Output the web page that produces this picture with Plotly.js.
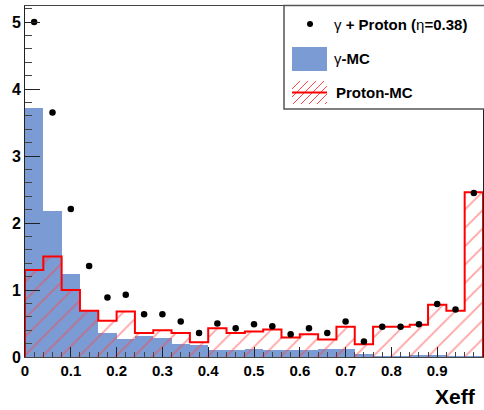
<!DOCTYPE html>
<html>
<head>
<meta charset="utf-8">
<script src="https://cdn.plot.ly/plotly-3.0.1.min.js"></script>
<style>html,body{margin:0;padding:0;background:#fff;}#chart{width:484px;height:410px;}</style>
</head>
<body>
<div id="chart"></div>
<script>
const binCenters = [0.02,0.06,0.10,0.14,0.18,0.22,0.26,0.30,0.34,0.38,0.42,0.46,0.50,0.54,0.58,0.62,0.66,0.70,0.74,0.78,0.82,0.86,0.90,0.94,0.98];
const binWidth = 0.04;
const gammaMC  = [3.72,2.18,1.24,0.68,0.36,0.27,0.31,0.29,0.19,0.18,0.10,0.10,0.12,0.11,0.10,0.11,0.12,0.12,0.04,0.02,0.01,0.03,0.03,0.02,0.01];
const protonMC = [1.30,1.50,1.00,0.69,0.54,0.68,0.36,0.40,0.36,0.22,0.43,0.36,0.38,0.41,0.29,0.34,0.26,0.45,0.19,0.45,0.45,0.48,0.78,0.69,2.46];
const dataPts  = [5.00,3.65,2.21,1.36,0.89,0.93,0.64,0.64,0.53,0.36,0.50,0.43,0.49,0.46,0.34,0.43,0.36,0.53,0.23,0.45,0.45,0.49,0.79,0.71,2.45];
const xTickVals = [0,0.1,0.2,0.3,0.4,0.5,0.6,0.7,0.8,0.9,1];
const xTickText = ['0','0.1','0.2','0.3','0.4','0.5','0.6','0.7','0.8','0.9','1'];
const yTickVals = [0,1,2,3,4,5];
const yTickText = ['0','1','2','3','4','5'];
const legendLabels = ['\u03b3<b> + Proton (</b>\u03b7<b>=0.38)</b>', '\u03b3<b>-MC</b>', '<b>Proton-MC</b>'];

// step outline for proton histogram
const stepX = [binCenters[0] - binWidth/2];
const stepY = [0];
binCenters.forEach((c, i) => { stepX.push(c - binWidth/2); stepY.push(protonMC[i]); });
stepX.push(binCenters[binCenters.length-1] + binWidth/2); stepY.push(protonMC[protonMC.length-1]);
stepX.push(binCenters[binCenters.length-1] + binWidth/2); stepY.push(0);

const W = 484, H = 410;
const M = {l:25, r:1, t:6, b:53};
const PW = W - M.l - M.r, PH = H - M.t - M.b;
const px = x => (x - M.l) / PW;
const py = y => (H - M.b - y) / PH;

const BLUE = '#7b9bd4';
const RED = '#ff0000';
const HATCH = '#ff4545';
const FONT = 'Liberation Sans, Arial, sans-serif';

const traces = [
  {type:'bar', x: binCenters, y: gammaMC, width: binWidth, marker:{color: BLUE, line:{width:0}}, showlegend:false, hoverinfo:'skip'},
  {type:'bar', x: binCenters, y: protonMC, width: binWidth,
   marker:{color:'rgba(0,0,0,0)', line:{width:0},
           pattern:{shape:'/', fgcolor: HATCH, bgcolor:'rgba(0,0,0,0)', fillmode:'overlay', size:13, solidity:0.14}},
   showlegend:false, hoverinfo:'skip'},
  {type:'scatter', mode:'lines', x: stepX, y: stepY, line:{color: RED, width:2, shape:'hv'}, showlegend:false, hoverinfo:'skip'},
  {type:'scatter', mode:'markers', x: binCenters, y: dataPts, marker:{color:'#000', size:6.5}, showlegend:false, hoverinfo:'skip'}
];

// legend shapes
const shapes = [];
shapes.push({type:'rect', xref:'paper', yref:'paper', x0:px(284), x1:px(486), y0:py(5.5), y1:py(109), fillcolor:'#fff', line:{color:'#555', width:1.5}});
shapes.push({type:'circle', xref:'paper', yref:'paper', x0:px(307), x1:px(313), y0:py(21), y1:py(27), fillcolor:'#000', line:{width:0}});
shapes.push({type:'rect', xref:'paper', yref:'paper', x0:px(292), x1:px(327), y0:py(47), y1:py(71), fillcolor:BLUE, line:{width:0}});
// hatch icon
(function(){
  const x0=292, x1=327, y0=81, y1=104, step=8;
  let d='';
  for (let c = x0 + y0; c <= x1 + y1 + step; c += step) {
    let pts=[];
    const cand = [[x0, c-x0],[x1, c-x1],[c-y0, y0],[c-y1, y1]];
    cand.forEach(p => { if (p[0]>=x0-0.01 && p[0]<=x1+0.01 && p[1]>=y0-0.01 && p[1]<=y1+0.01) pts.push(p); });
    if (pts.length>=2) {
      pts.sort((a,b)=>a[0]-b[0]);
      const a=pts[0], b=pts[pts.length-1];
      if (Math.abs(a[0]-b[0])>0.5) d += 'M'+px(a[0])+','+py(a[1])+' L'+px(b[0])+','+py(b[1])+' ';
    }
  }
  shapes.push({type:'path', xref:'paper', yref:'paper', path:d, line:{color:HATCH, width:1}});
})();
shapes.push({type:'line', xref:'paper', yref:'paper', x0:px(292), x1:px(327), y0:py(92.5), y1:py(92.5), line:{color:RED, width:2}});

const annotations = [
  {xref:'paper', yref:'paper', x:px(332), y:py(24), xanchor:'left', yanchor:'middle', text:legendLabels[0], showarrow:false, font:{family:FONT, size:15, color:'#000'}},
  {xref:'paper', yref:'paper', x:px(332), y:py(58), xanchor:'left', yanchor:'middle', text:legendLabels[1], showarrow:false, font:{family:FONT, size:15, color:'#000'}},
  {xref:'paper', yref:'paper', x:px(334), y:py(92), xanchor:'left', yanchor:'middle', text:legendLabels[2], showarrow:false, font:{family:FONT, size:15, color:'#000'}},
  {xref:'paper', yref:'paper', x:px(478), y:py(397), xanchor:'right', yanchor:'middle', text:'<b>Xeff</b>', showarrow:false, font:{family:FONT, size:21, color:'#000'}}
];

const layout = {
  width: W, height: H,
  margin: M,
  paper_bgcolor:'#fff', plot_bgcolor:'#fff',
  barmode:'overlay', bargap:0,
  showlegend:false,
  xaxis:{range:[0,1], tickvals:xTickVals, ticktext:xTickText, ticks:'inside', ticklen:10, tickwidth:1, tickcolor:'#222',
         minor:{dtick:0.02, ticks:'inside', ticklen:5, tickcolor:'#444'},
         showgrid:false, zeroline:false, showline:true, linecolor:'#444', linewidth:1, mirror:true,
         tickfont:{family:FONT, size:15, color:'#000', weight:'bold'}, fixedrange:true},
  yaxis:{range:[0,5.24], tickvals:yTickVals, ticktext:yTickText, ticks:'inside', ticklen:15, tickwidth:1, tickcolor:'#222',
         minor:{dtick:0.2, ticks:'inside', ticklen:7, tickcolor:'#444'},
         showgrid:false, zeroline:false, showline:true, linecolor:'#222', linewidth:1, mirror:true,
         tickfont:{family:FONT, size:16, color:'#000', weight:'bold'}, fixedrange:true},
  shapes: shapes,
  annotations: annotations
};

Plotly.newPlot('chart', traces, layout, {staticPlot:true, displayModeBar:false});
</script>
</body>
</html>
